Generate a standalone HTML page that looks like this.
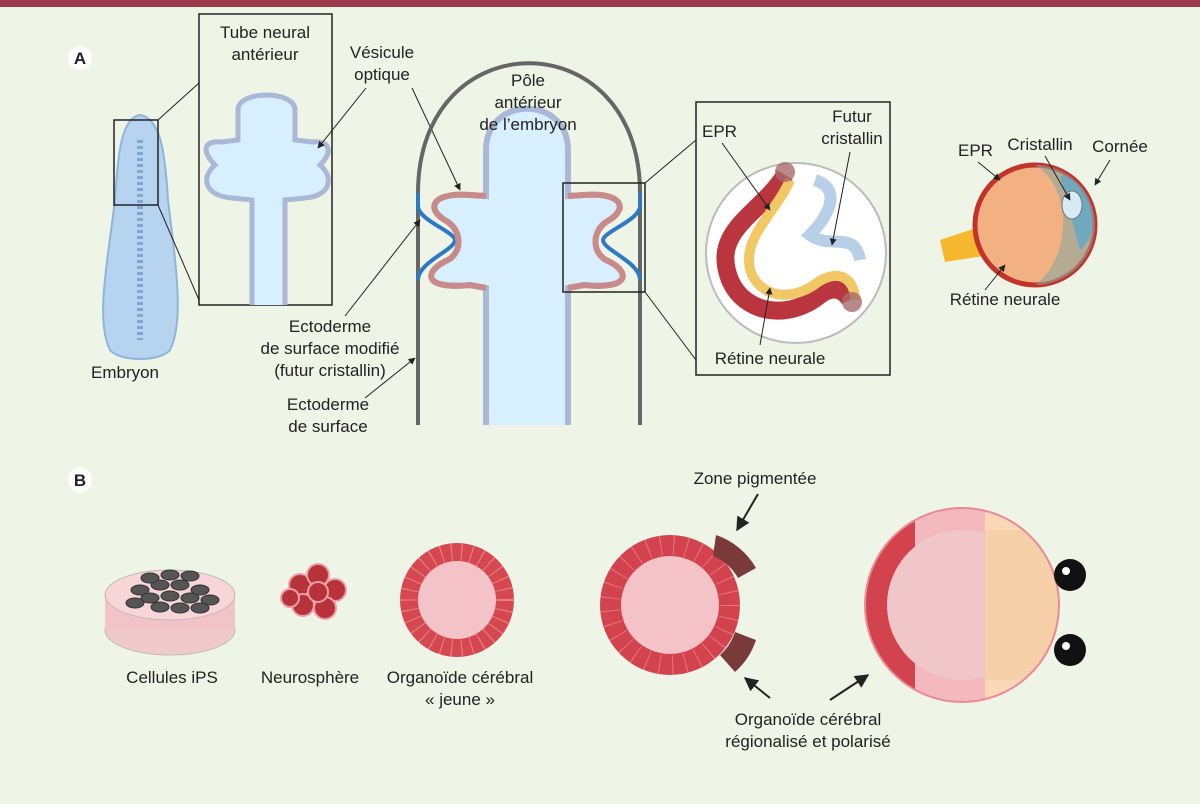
<!DOCTYPE html>
<html><head><meta charset="utf-8"><style>
html,body{margin:0;padding:0;background:#eef5e6;}
svg{display:block}
text{font-family:"Liberation Sans",sans-serif;font-size:17px;fill:#222;}
</style></head><body>
<svg width="1200" height="804" viewBox="0 0 1200 804">
<rect width="1200" height="804" fill="#eef5e6"/>
<rect width="1200" height="7" fill="#9b3a4a"/>
<defs>
<marker id="ar" viewBox="0 0 10 10" refX="9" refY="5" markerWidth="7" markerHeight="7" orient="auto"><path d="M0,0L10,5L0,10z" fill="#222"/></marker>
</defs>
<circle cx="80" cy="58" r="12" fill="#fff"/><text x="80" y="64" text-anchor="middle" font-weight="bold" font-size="16">A</text>
<circle cx="80" cy="480" r="12" fill="#fff"/><text x="80" y="486" text-anchor="middle" font-weight="bold" font-size="16">B</text>

<path d="M140,115 C160,118 165,150 168,200 C175,260 185,320 170,350 C160,362 120,362 110,350 C95,320 108,260 115,200 C118,150 122,118 140,115z" fill="#b6d3ef" stroke="#8fb5dd" stroke-width="2"/>
<path d="M140,140 L140,340" stroke="#7fa6d4" stroke-width="6" stroke-dasharray="3 3"/>
<rect x="114" y="120" width="44" height="85" fill="none" stroke="#222" stroke-width="1.5"/>
<text x="125" y="378" text-anchor="middle">Embryon</text>
<line x1="158" y1="120" x2="199" y2="83" stroke="#222"/>
<line x1="158" y1="205" x2="199" y2="300" stroke="#222"/>
<rect x="199" y="14" width="133" height="291" fill="none" stroke="#222" stroke-width="1.5"/>
<text x="265" y="38" text-anchor="middle">Tube neural</text>
<text x="265" y="60" text-anchor="middle">antérieur</text>
<path d="M252,305 L252,200 L232,198 C205,196 200,178 215,165 C200,150 205,140 222,142 L238,140 L238,110 C238,90 295,90 295,110 L295,140 L312,142 C328,140 335,150 320,165 C335,178 330,196 305,198 L285,200 L285,305" fill="#d8efff" stroke="#a8b8d6" stroke-width="5"/>
<text x="382" y="58" text-anchor="middle">Vésicule</text>
<text x="382" y="80" text-anchor="middle">optique</text>
<line x1="366" y1="88" x2="318" y2="148" stroke="#222" marker-end="url(#ar)"/>
<line x1="412" y1="88" x2="460" y2="190" stroke="#222" marker-end="url(#ar)"/>

<path d="M418,425 L418,193 C418,20 640,20 640,193 L640,425" fill="none" stroke="#666" stroke-width="4"/>
<path d="M418,193 L418,206 C418,220 455,232 455,240 C455,250 418,262 418,280" fill="none" stroke="#2d79c4" stroke-width="4"/>
<path d="M640,193 L640,206 C640,220 603,232 603,240 C603,250 640,262 640,280" fill="none" stroke="#2d79c4" stroke-width="4"/>
<path d="M486,425 L486,288 L470,285 C420,290 425,270 448,260 C462,252 462,232 448,222 C425,210 430,192 470,195 L486,196 L486,150 C486,95 568,95 568,150 L568,196 L584,195 C624,192 629,210 606,222 C592,232 592,252 606,260 C629,270 634,290 584,285 L568,288 L568,425" fill="#d8efff" stroke="#a8b8d6" stroke-width="6"/>
<path d="M486,196 L470,195 C430,192 425,210 448,222 C462,232 462,252 448,260 C425,270 420,290 470,285 L486,288" fill="none" stroke="#c98a8a" stroke-width="6"/>
<path d="M568,196 L584,195 C624,192 629,210 606,222 C592,232 592,252 606,260 C629,270 634,290 584,285 L568,288" fill="none" stroke="#c98a8a" stroke-width="6"/>
<text x="528" y="86" text-anchor="middle">Pôle</text>
<text x="528" y="108" text-anchor="middle">antérieur</text>
<text x="528" y="130" text-anchor="middle">de l’embryon</text>
<rect x="563" y="183" width="82" height="109" fill="none" stroke="#222" stroke-width="1.5"/>
<line x1="645" y1="183" x2="696" y2="140" stroke="#222"/>
<line x1="645" y1="292" x2="696" y2="360" stroke="#222"/>
<text x="330" y="332" text-anchor="middle">Ectoderme</text>
<text x="330" y="354" text-anchor="middle">de surface modifié</text>
<text x="330" y="376" text-anchor="middle">(futur cristallin)</text>
<line x1="345" y1="316" x2="420" y2="220" stroke="#222" marker-end="url(#ar)"/>
<text x="328" y="410" text-anchor="middle">Ectoderme</text>
<text x="328" y="432" text-anchor="middle">de surface</text>
<line x1="365" y1="398" x2="415" y2="358" stroke="#222" marker-end="url(#ar)"/>

<rect x="696" y="102" width="194" height="273" fill="none" stroke="#222" stroke-width="1.5"/>
<circle cx="796" cy="253" r="90" fill="#fff" stroke="#bbb" stroke-width="2"/>
<path d="M785,175 C760,215 710,230 730,280 C745,315 790,320 820,295 C840,280 850,300 850,300" fill="none" stroke="#b9363e" stroke-width="18"/>
<path d="M790,180 C775,215 738,240 752,275 C765,300 795,300 818,282 C840,268 855,280 855,300" fill="none" stroke="#f0c866" stroke-width="10"/>
<path d="M815,180 C845,190 825,220 810,235 C830,250 855,230 860,260" fill="none" stroke="#b8cfe8" stroke-width="12"/>
<circle cx="785" cy="172" r="10" fill="#a86a6a" opacity=".8"/>
<circle cx="852" cy="302" r="10" fill="#a86a6a" opacity=".8"/>
<text x="702" y="137">EPR</text>
<line x1="722" y1="143" x2="770" y2="210" stroke="#222" marker-end="url(#ar)"/>
<text x="852" y="122" text-anchor="middle">Futur</text>
<text x="852" y="144" text-anchor="middle">cristallin</text>
<line x1="850" y1="152" x2="832" y2="245" stroke="#222" marker-end="url(#ar)"/>
<text x="770" y="364" text-anchor="middle">Rétine neurale</text>
<line x1="760" y1="345" x2="770" y2="288" stroke="#222" marker-end="url(#ar)"/>

<path d="M940,240 L985,225 L990,255 L945,262z" fill="#f5b82e"/>
<circle cx="1035" cy="225" r="60" fill="#f3b183" stroke="#c2342b" stroke-width="5"/>
<path d="M1035,165 A60,60 0 0,1 1095,225 A60,60 0 0,1 1035,285 C1070,260 1075,190 1035,165z" fill="#8aa7a0" opacity=".6"/>
<path d="M1060,175 C1090,180 1105,230 1080,250" fill="#5fa8c8" opacity=".8"/>
<ellipse cx="1072" cy="205" rx="10" ry="14" fill="#d8eaf5" stroke="#777"/>
<text x="958" y="156">EPR</text>
<line x1="978" y1="162" x2="1000" y2="180" stroke="#222" marker-end="url(#ar)"/>
<text x="1040" y="150" text-anchor="middle">Cristallin</text>
<line x1="1045" y1="156" x2="1070" y2="200" stroke="#222" marker-end="url(#ar)"/>
<text x="1120" y="152" text-anchor="middle">Cornée</text>
<line x1="1110" y1="160" x2="1095" y2="185" stroke="#222" marker-end="url(#ar)"/>
<text x="1005" y="305" text-anchor="middle">Rétine neurale</text>
<line x1="985" y1="290" x2="1005" y2="265" stroke="#222" marker-end="url(#ar)"/>

<ellipse cx="170" cy="630" rx="65" ry="25" fill="#f0c9cb" stroke="#bbb"/>
<rect x="105" y="595" width="130" height="35" fill="#f3c4c7"/>
<ellipse cx="170" cy="595" rx="65" ry="25" fill="#f8d5d6" stroke="#bbb"/>
<g fill="#555" stroke="#333">
<ellipse cx="140" cy="590" rx="9" ry="5"/><ellipse cx="160" cy="585" rx="9" ry="5"/><ellipse cx="180" cy="585" rx="9" ry="5"/><ellipse cx="200" cy="590" rx="9" ry="5"/>
<ellipse cx="150" cy="598" rx="9" ry="5"/><ellipse cx="170" cy="596" rx="9" ry="5"/><ellipse cx="190" cy="598" rx="9" ry="5"/><ellipse cx="210" cy="600" rx="9" ry="5"/>
<ellipse cx="135" cy="603" rx="9" ry="5"/><ellipse cx="160" cy="607" rx="9" ry="5"/><ellipse cx="180" cy="608" rx="9" ry="5"/><ellipse cx="200" cy="608" rx="9" ry="5"/>
<ellipse cx="170" cy="575" rx="9" ry="5"/><ellipse cx="150" cy="578" rx="9" ry="5"/><ellipse cx="190" cy="576" rx="9" ry="5"/>
</g>
<text x="172" y="683" text-anchor="middle">Cellules iPS</text>
<g fill="#b8323a" stroke="#e9a0a8" stroke-width="2">
<circle cx="300" cy="585" r="11"/><circle cx="318" cy="575" r="11"/><circle cx="335" cy="590" r="11"/><circle cx="325" cy="608" r="11"/><circle cx="303" cy="605" r="11"/><circle cx="318" cy="592" r="10"/><circle cx="290" cy="598" r="9"/>
</g>
<text x="310" y="683" text-anchor="middle">Neurosphère</text>
<circle cx="457" cy="600" r="57" fill="#d6484f"/>
<circle cx="457" cy="600" r="48" fill="none" stroke="#f7c4c6" stroke-width="18" stroke-dasharray="1 9" opacity=".5"/>
<circle cx="457" cy="600" r="39" fill="#f4c3c7"/>
<text x="460" y="683" text-anchor="middle">Organoïde cérébral</text>
<text x="460" y="705" text-anchor="middle">« jeune »</text>
<circle cx="670" cy="605" r="70" fill="#d3434d"/>
<circle cx="670" cy="605" r="60" fill="none" stroke="#f29aa3" stroke-width="20" stroke-dasharray="1 12" opacity=".6"/>
<circle cx="670" cy="605" r="49" fill="#f4c3c7"/>
<path d="M716,535 A73,73 0 0,1 756,568 L738,578 A51,51 0 0,0 713,556z" fill="#7a3a3a"/>
<path d="M756,640 A73,73 0 0,1 735,672 L720,655 A51,51 0 0,0 735,632z" fill="#7a3a3a"/>
<text x="755" y="484" text-anchor="middle">Zone pigmentée</text>
<line x1="758" y1="494" x2="737" y2="530" stroke="#222" stroke-width="2" marker-end="url(#ar)"/>
<line x1="770" y1="698" x2="745" y2="678" stroke="#222" stroke-width="2" marker-end="url(#ar)"/>
<line x1="830" y1="700" x2="868" y2="675" stroke="#222" stroke-width="2" marker-end="url(#ar)"/>
<text x="808" y="725" text-anchor="middle">Organoïde cérébral</text>
<text x="808" y="747" text-anchor="middle">régionalisé et polarisé</text>
<clipPath id="cl"><circle cx="962" cy="605" r="97"/></clipPath>
<g clip-path="url(#cl)">
<rect x="860" y="505" width="210" height="200" fill="#f4b9bf"/>
<rect x="860" y="505" width="55" height="200" fill="#d3434d"/>
<rect x="985" y="505" width="90" height="200" fill="#fbd7b8"/>
<circle cx="962" cy="605" r="75" fill="#f0c6c8"/>
<rect x="985" y="530" width="80" height="150" fill="#f5d0a8"/>
</g>
<circle cx="962" cy="605" r="97" fill="none" stroke="#e98a94" stroke-width="2"/>
<circle cx="1070" cy="575" r="16" fill="#111"/><circle cx="1066" cy="571" r="4" fill="#fff"/>
<circle cx="1070" cy="650" r="16" fill="#111"/><circle cx="1066" cy="646" r="4" fill="#fff"/>
</svg>
</body></html>
